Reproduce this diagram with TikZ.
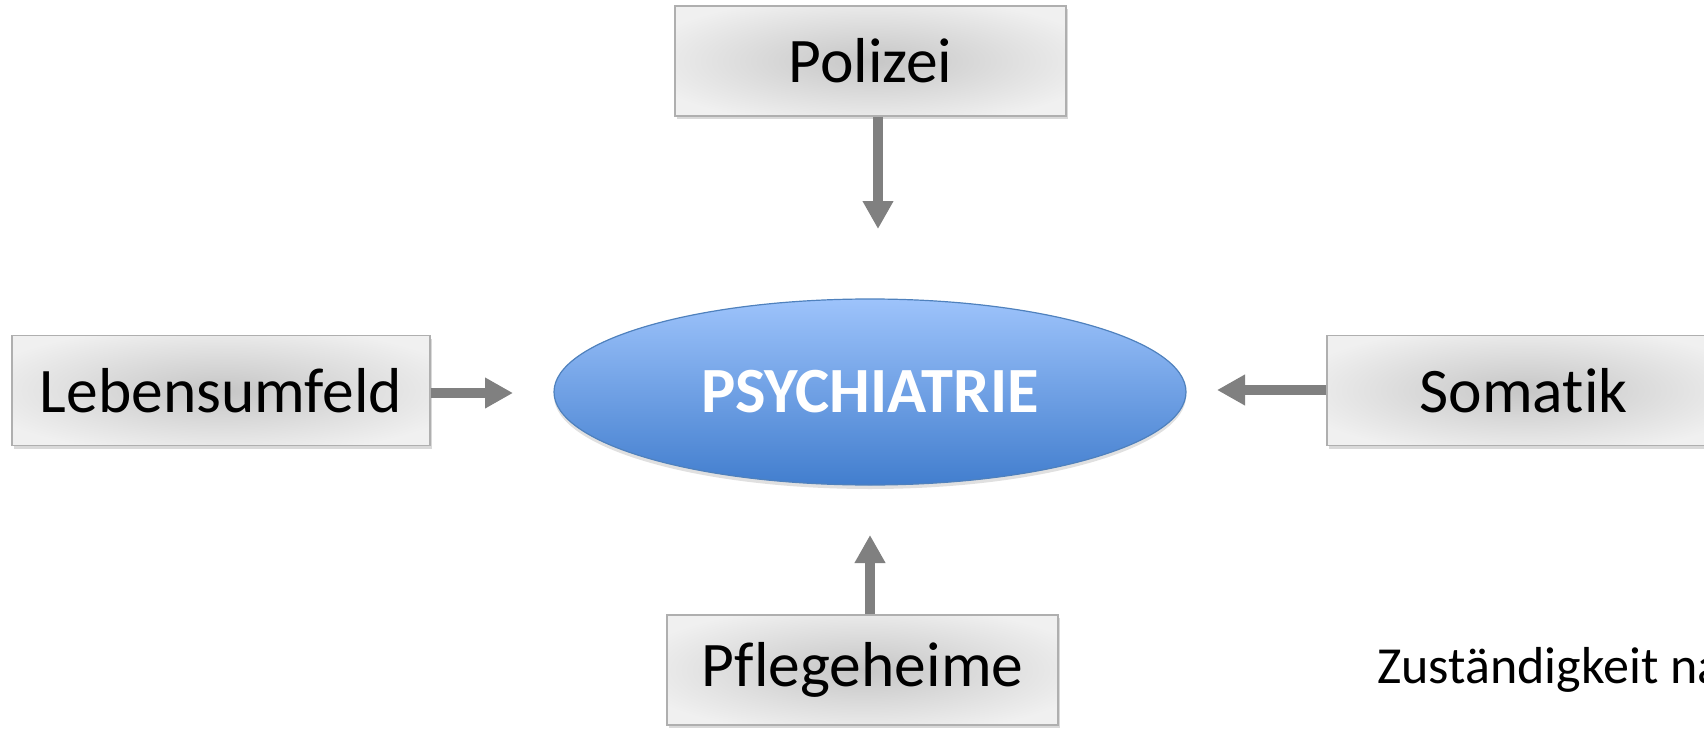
\documentclass[tikz,border=0pt]{standalone}
\usepackage{fontspec}
\setmainfont{Carlito}[Ligatures=NoCommon]
\usetikzlibrary{arrows.meta,shapes.geometric,shadows}

\definecolor{boxin}{RGB}{198,198,198}
\definecolor{boxout}{RGB}{240,240,240}
\definecolor{boxline}{RGB}{175,175,175}
\definecolor{elltop}{RGB}{157,195,251}
\definecolor{ellbot}{RGB}{66,126,206}
\definecolor{ellline}{RGB}{79,129,189}
\definecolor{arrgray}{RGB}{128,128,128}

% soft glow from the centre of a box towards its rim
\pgfdeclareradialshading{boxglow}{\pgfpoint{0bp}{0bp}}{%
  color(0bp)=(boxin); color(30bp)=(boxout); color(50bp)=(boxout)}

\tikzset{
  srcbox/.style={rectangle, draw=boxline, line width=1.2pt,
    shading=boxglow, minimum height=110pt,
    drop shadow={shadow xshift=2pt, shadow yshift=-3pt, opacity=0.25, fill=black!60},
    font=\fontsize{63.5}{70}\selectfont, text=black, inner sep=0pt},
  centre/.style={ellipse, draw=ellline, line width=1.2pt,
    top color=elltop, bottom color=ellbot,
    drop shadow={shadow xshift=0pt, shadow yshift=-4pt, opacity=0.2, fill=black!60},
    font=\fontsize{64.5}{70}\selectfont\bfseries, text=white, inner sep=0pt},
  flow/.style={draw=arrgray, line width=10pt,
    -{Triangle[length=28pt, width=29pt]}},
  note/.style={font=\fontsize{52}{60}\selectfont, text=black, inner sep=0pt, anchor=base west}
}

\begin{document}
\begin{tikzpicture}[x=1pt, y=-1pt]
  \useasboundingbox (0,0) rectangle (1704,730);
  \clip (0,0) rectangle (1704,730);

  % central institution
  \node[centre, minimum width=632pt, minimum height=186pt] (psy) at (870,392) {PSYCHIATRIE};

  % referring parties
  \node[srcbox, minimum width=391pt] (pol) at (870.5,61) {Polizei};
  \node[srcbox, minimum width=418pt] (leb) at (221,390.5) {Lebensumfeld};
  \node[srcbox, minimum width=393pt] (som) at (1523.5,390.5) {Somatik};
  \node[srcbox, minimum width=391pt] (pfl) at (862.5,670) {Pflegeheime};

  % arrow tips, placed short of the ellipse
  \coordinate (polTip) at (878,229);
  \coordinate (lebTip) at (513,393);
  \coordinate (somTip) at (1217,390);
  \coordinate (pflTip) at (870,535);

  \draw[flow] (polTip |- pol.south) -- (polTip);
  \draw[flow] (leb.east |- lebTip) -- (lebTip);
  \draw[flow] (som.west |- somTip) -- (somTip);
  \draw[flow] (pflTip |- pfl.north) -- (pflTip);

  % caption running off the right edge
  \node[note] (cap) at (1377,683) {Zuständigkeit na};
\end{tikzpicture}
\end{document}
